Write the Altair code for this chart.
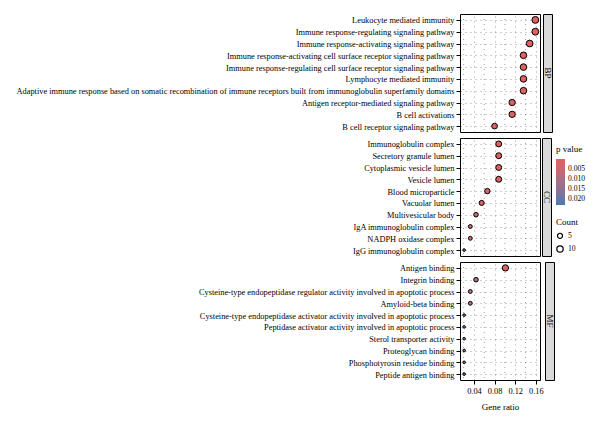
import altair as alt
import pandas as pd

bp_terms = [
    "Leukocyte mediated immunity",
    "Immune response-regulating  signaling pathway",
    "Immune response-activating signaling pathway",
    "Immune response-activating cell surface receptor signaling pathway",
    "Immune response-regulating cell surface receptor signaling pathway",
    "Lymphocyte mediated immunity",
    "Adaptive immune response based on somatic recombination of immune receptors built from immunoglobulin superfamily  domains",
    "Antigen receptor-mediated signaling pathway",
    "B cell activations",
    "B cell receptor signaling pathway",
]
bp_ratio = [0.159, 0.159, 0.148, 0.136, 0.136, 0.136, 0.136, 0.114, 0.114, 0.080]
bp_count = [14, 14, 13, 12, 12, 12, 12, 10, 10, 7]
bp_p = [0.0004, 0.0005, 0.0006, 0.0008, 0.0008, 0.0009, 0.0010, 0.0012, 0.0013, 0.0015]

cc_terms = [
    "Immunoglobulin complex",
    "Secretory granule lumen",
    "Cytoplasmic vesicle lumen",
    "Vesicle lumen",
    "Blood microparticle",
    "Vacuolar  lumen",
    "Multivesicular body",
    "IgA immunoglobulin complex",
    "NADPH oxidase complex",
    "IgG immunoglobulin complex",
]
cc_ratio = [0.088, 0.088, 0.088, 0.088, 0.066, 0.055, 0.044, 0.033, 0.033, 0.021]
cc_count = [8, 8, 8, 8, 6, 5, 4, 3, 3, 2]
cc_p = [0.0005, 0.0008, 0.0010, 0.0012, 0.0020, 0.0030, 0.0040, 0.0030, 0.0035, 0.0120]

mf_terms = [
    "Antigen binding",
    "Integrin binding",
    "Cysteine-type endopeptidase regulator activity involved in apoptotic process",
    "Amyloid-beta binding",
    "Cysteine-type endopeptidase activator activity involved in apoptotic process",
    "Peptidase activator activity involved in apoptotic process",
    "Sterol transporter activity",
    "Proteoglycan binding",
    "Phosphotyrosin residue binding",
    "Peptide antigen binding",
]
mf_ratio = [0.101, 0.044, 0.033, 0.033, 0.021, 0.021, 0.021, 0.021, 0.021, 0.021]
mf_count = [10, 4, 3, 3, 2, 2, 2, 2, 2, 2]
mf_p = [0.0010, 0.0090, 0.0055, 0.0080, 0.0120, 0.0125, 0.0150, 0.0170, 0.0190, 0.0200]

ontologies = ["BP", "CC", "MF"]
minor_grid = [0.02, 0.06, 0.10, 0.14]
major_ticks = [0.04, 0.08, 0.12, 0.16]
p_legend_values = [0.005, 0.010, 0.015, 0.020]
count_legend_values = [5, 10]

groups = {
    "BP": (bp_terms, bp_ratio, bp_count, bp_p),
    "CC": (cc_terms, cc_ratio, cc_count, cc_p),
    "MF": (mf_terms, mf_ratio, mf_count, mf_p),
}

FONT = "Liberation Serif"
W, H = 80, 118
XDOM = [0.013, 0.168]

# negated p so that the vertical gradient legend shows small p (red) at the top
fill_scale = alt.Scale(domain=[-0.023, 0.0], range=["#4679B2", "#E0605E"], interpolate="lab")
size_scale = alt.Scale(type="log", domain=[2, 14], range=[7, 47])

rows = []
for ont in ontologies:
    terms, ratio, count, p = groups[ont]
    df = pd.DataFrame({"term": terms, "ratio": ratio, "count": count, "p": p})
    df["negp"] = -df["p"]
    bottom = ont == "MF"
    if bottom:
        xaxis = alt.Axis(values=major_ticks, format=".2f", title="Gene ratio",
                         grid=True, titlePadding=8)
    else:
        xaxis = alt.Axis(values=major_ticks, labels=False, ticks=False, title=None, grid=True)
    minor = alt.Chart(pd.DataFrame({"v": minor_grid})).mark_rule(
        strokeDash=[1, 4], color="#333333", strokeWidth=0.8, opacity=0.6
    ).encode(x=alt.X("v:Q", scale=alt.Scale(domain=XDOM), axis=xaxis))
    dots = alt.Chart(df).mark_circle(stroke="black", strokeWidth=1, opacity=1).encode(
        x=alt.X("ratio:Q", scale=alt.Scale(domain=XDOM), axis=xaxis),
        y=alt.Y("term:N", sort=terms, title=None,
                scale=alt.Scale(padding=0.5),
                axis=alt.Axis(grid=True, labelLimit=0)),
        fill=alt.Fill("negp:Q", scale=fill_scale,
                      legend=alt.Legend(title="p value", values=[-v for v in p_legend_values],
                                        labelExpr="format(-datum.value, '.3f')",
                                        orient="none", legendX=96, legendY=131,
                                        gradientLength=46, gradientThickness=9,
                                        labelOffset=3)),
        size=alt.Size("count:Q", scale=size_scale,
                      legend=alt.Legend(title="Count", values=count_legend_values, orient="none",
                                        legendX=96, legendY=204,
                                        symbolFillColor="white", symbolStrokeColor="black",
                                        symbolStrokeWidth=1.2, symbolOpacity=1)),
    )
    panel = alt.layer(minor, dots).properties(width=W, height=H)
    strip = alt.Chart(pd.DataFrame({"lab": [ont]})).mark_text(
        angle=90, font=FONT, fontSize=9, color="black"
    ).encode(text="lab:N", x=alt.value(4.5), y=alt.value(H / 2)).properties(
        width=9, height=H, view=alt.ViewBackground(fill="#D9D9D9", stroke="black", strokeWidth=1)
    )
    rows.append(alt.hconcat(panel, strip, spacing=0))

chart = alt.vconcat(*rows, spacing=4).resolve_scale(
    x="independent", y="independent", fill="shared", size="shared"
).configure_view(stroke="black", strokeWidth=1).configure_axis(
    labelFont=FONT, labelFontSize=8.35, labelColor="black", titleFont=FONT,
    titleFontSize=9, titleFontWeight="normal", titleColor="black",
    tickColor="black", tickSize=4, domain=False, labelPadding=2,
    gridColor="#333333", gridDash=[1, 4], gridOpacity=0.6, gridWidth=0.8,
).configure_legend(
    titleFont=FONT, titleFontSize=9, titleFontWeight="normal", titleColor="black",
    labelFont=FONT, labelFontSize=7.6, labelColor="black",
)

chart.save("out.html", embed_options={"renderer": "svg", "actions": False})
